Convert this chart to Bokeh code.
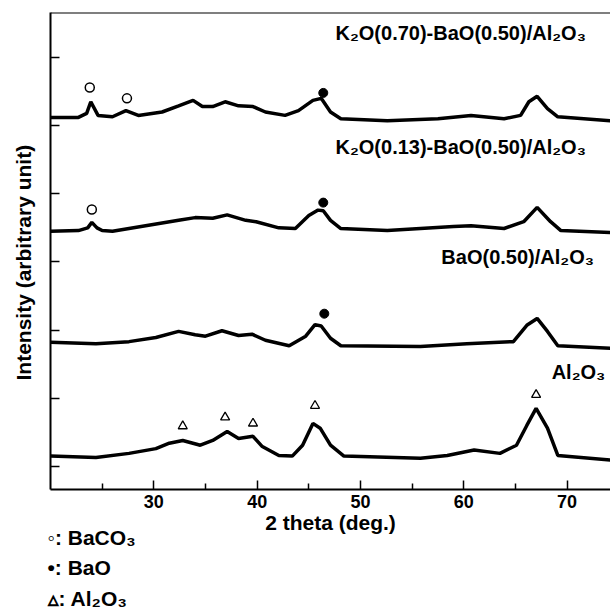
from bokeh.plotting import figure
from bokeh.models import Range1d, FixedTicker, Label, Span, Title
from bokeh.embed import file_html
from bokeh.resources import INLINE

# ---- data (intensity in arbitrary units with vertical offsets) ----
tt_k070 = [20, 22.7, 23.5, 23.9, 24.6, 26, 27.3, 28.5, 30.8, 32.4, 33.8, 34.7, 35.7, 36.9,
           38.2, 39.6, 40.8, 42.7, 44, 45.4, 46.2, 47.1, 48.1, 52.6, 57.5, 60.7, 63.9,
           65.5, 66.3, 67.1, 68.1, 69.1, 74.3]
int_k070 = [612, 612, 618, 635, 615, 613, 622, 615, 620, 629, 637, 628, 628, 635,
            629, 628, 620, 615, 622, 637, 640, 620, 610, 607, 610, 615, 610,
            615, 635, 643, 625, 613, 607]

tt_k013 = [20, 22.7, 23.6, 24, 24.5, 25, 26, 29.2, 32.4, 34, 35.7, 37.1, 38.9, 39.9,
           42.1, 43.7, 45, 45.9, 46.4, 47.1, 48.1, 52.6, 59, 60.7, 63.9, 65.8, 67.1,
           68.4, 69.4, 74.3]
int_k013 = [445, 446, 450, 458, 450, 446, 445, 453, 461, 465, 464, 469, 461, 459,
            450, 449, 468, 476, 475, 461, 449, 446, 452, 453, 449, 459, 480,
            459, 446, 443]

tt_bao = [20, 24.4, 27.6, 30.2, 32.4, 34, 35, 36.6, 38.2, 39.5, 40.8, 43.1, 44.7, 45.6,
          46.2, 47.1, 48.1, 55.8, 60.3, 64.8, 66.1, 67.1, 68.1, 69.1, 74.3]
int_bao = [282, 280, 283, 289, 298, 293, 291, 299, 292, 294, 285, 277, 291, 308,
           306, 288, 277, 276, 280, 283, 307, 317, 298, 277, 273]

tt_al = [20, 24.4, 27.6, 30.2, 31.5, 32.8, 34.5, 35.7, 37.1, 38.2, 39.6, 40.5, 42.1, 43.4,
         44.4, 45.4, 46.1, 47.1, 48.4, 55.8, 58.4, 61, 63.5, 65.1, 66.1, 67.0, 68.1,
         69.1, 74.3]
int_al = [115, 113, 119, 126, 134, 138, 131, 138, 151, 141, 144, 129, 116, 115,
          131, 163, 156, 131, 115, 112, 116, 124, 119, 131, 160, 185, 156,
          116, 109]

# phase markers
baco3_tt = [23.8, 27.4, 24.0]
baco3_int = [656, 640, 477]
bao_tt = [46.4, 46.4, 46.5]
bao_int = [648, 487, 324]
al2o3_tt = [32.8, 36.9, 39.6, 45.6, 67.0]
al2o3_int = [159, 172, 163, 189, 205]

series_labels = ["K\u2082O(0.70)-BaO(0.50)/Al\u2082O\u2083",
                 "K\u2082O(0.13)-BaO(0.50)/Al\u2082O\u2083",
                 "BaO(0.50)/Al\u2082O\u2083",
                 "Al\u2082O\u2083"]
legend_texts = ["\u25e6: BaCO\u2083", "\u2022: BaO", "\u25b5: Al\u2082O\u2083"]
x_ticks = [30, 40, 50, 60, 70]
x_minor = [25, 35, 45, 55, 65]
y_ticks = [100, 200, 300, 400, 500, 600, 700]

FONT = "Liberation Sans"
Y0, Y1 = 66, 766

p = figure(width=610, height=609, output_backend="svg", toolbar_location=None,
           x_range=Range1d(20, 74.2), y_range=Range1d(Y0, Y1),
           min_border_left=50, min_border_right=0, min_border_top=12, min_border_bottom=120)
p.outline_line_color = None
p.grid.visible = False
p.background_fill_color = "white"

for xs, ys in [(tt_k070, int_k070), (tt_k013, int_k013), (tt_bao, int_bao), (tt_al, int_al)]:
    p.line(xs, ys, line_color="black", line_width=3.5)

p.scatter(baco3_tt, baco3_int, marker="circle", size=9, fill_color=None,
          line_color="black", line_width=1.5)
p.scatter(bao_tt, bao_int, marker="circle", size=9, fill_color="black", line_color="black")
p.scatter(al2o3_tt, al2o3_int, marker="triangle", size=9, fill_color=None,
          line_color="black", line_width=1.3)

p.add_layout(Span(location=Y1, dimension="width", line_color="black", line_width=2))

xa = p.xaxis[0]
xa.ticker = FixedTicker(ticks=x_ticks, minor_ticks=x_minor)
xa.axis_label = "2 theta (deg.)"
ya = p.yaxis[0]
ya.ticker = FixedTicker(ticks=y_ticks)
ya.axis_label = "Intensity (arbitrary unit)" + "\u00a0" * 4
ya.major_label_overrides = {t: "" for t in y_ticks}
ya.major_label_standoff = 0
ya.axis_label_standoff = 16
for ax in (xa, ya):
    ax.axis_line_width = 2
    ax.axis_line_color = "black"
    ax.major_tick_in = 9
    ax.major_tick_out = 0
    ax.minor_tick_in = 6
    ax.minor_tick_out = 0
    ax.major_tick_line_width = 1.5
    ax.minor_tick_line_width = 1.5
    ax.axis_label_text_font = FONT
    ax.axis_label_text_font_style = "bold"
    ax.axis_label_text_color = "black"
    ax.major_label_text_font = FONT
    ax.major_label_text_font_style = "bold"
    ax.major_label_text_color = "black"
xa.axis_label_text_font_size = "21px"
ya.axis_label_text_font_size = "21px"
xa.major_label_text_font_size = "18px"
xa.major_label_standoff = 5
xa.axis_label_standoff = 0
ya.minor_tick_line_color = None

label_specs = [(59.7, 736, "center"), (59.7, 568, "center"), (72.6, 407, "right"), (73.7, 239, "right")]
for (lx, ly, al), txt in zip(label_specs, series_labels):
    p.add_layout(Label(x=lx, y=ly, text=txt, text_align=al, text_baseline="middle",
                       text_font=FONT, text_font_style="bold", text_font_size="20px",
                       text_color="black"))

legend_standoffs = [-24, 35, -24]
for txt, so in zip(legend_texts, legend_standoffs):
    p.add_layout(Title(text=txt, align="left", vertical_align="middle", offset=-3, standoff=so,
                       text_font=FONT, text_font_style="bold", text_font_size="21px",
                       text_color="black"), "below")

open("out.html", "w").write(file_html(p, INLINE))
